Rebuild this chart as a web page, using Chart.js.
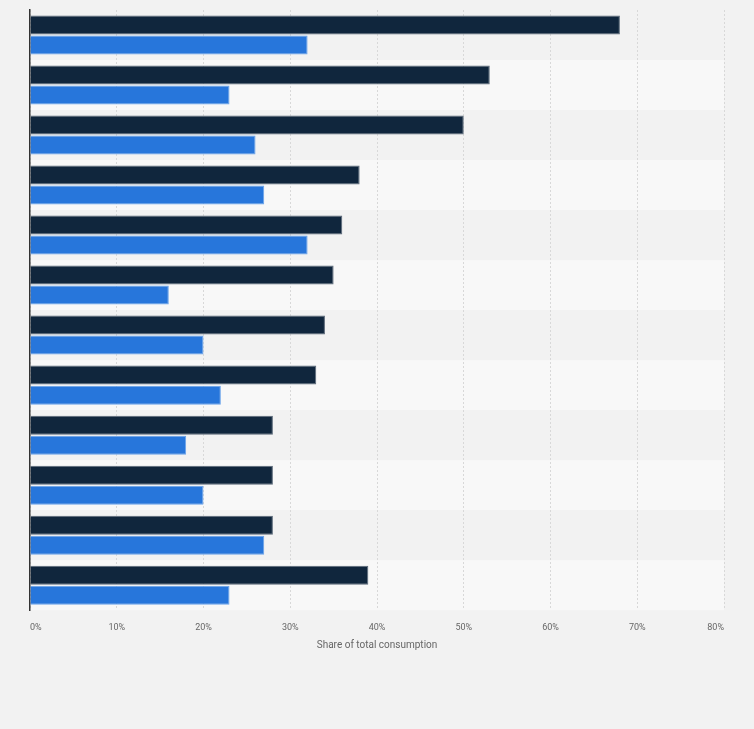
<!DOCTYPE html>
<html>
<head>
<meta charset="utf-8">
<script src="https://cdn.jsdelivr.net/npm/chart.js@4"></script>
<style>
  html, body { margin: 0; padding: 0; background: #f2f2f2; }
  #wrap { width: 754px; height: 729px; }
</style>
</head>
<body>
<div id="wrap"><canvas id="chart" width="754" height="729"></canvas></div>
<script>
const categories = ['1', '2', '3', '4', '5', '6', '7', '8', '9', '10', '11', '12'];
const seriesDark = [68, 53, 50, 38, 36, 35, 34, 33, 28, 28, 28, 39];
const seriesBlue = [32, 23, 26, 27, 32, 16, 20, 22, 18, 20, 27, 23];
const tickValues = [0, 10, 20, 30, 40, 50, 60, 70, 80];

// alternating row stripes behind bars
const stripes = {
  id: 'stripes',
  beforeDraw(chart) {
    const { ctx, chartArea, scales } = chart;
    ctx.save();
    ctx.fillStyle = '#f2f2f2';
    ctx.fillRect(0, 0, chart.width, chart.height);
    const y = scales.y;
    const h = (chartArea.bottom - chartArea.top) / categories.length;
    categories.forEach((c, i) => {
      const mid = y.getPixelForValue(i);
      ctx.fillStyle = i % 2 === 0 ? '#f2f2f2' : '#f8f8f8';
      ctx.fillRect(chartArea.left, mid - h / 2, chartArea.right - chartArea.left, h);
    });
    ctx.restore();
  }
};

new Chart(document.getElementById('chart'), {
  type: 'bar',
  data: {
    labels: categories,
    datasets: [
      {
        data: seriesDark,
        backgroundColor: '#10263d',
        borderColor: '#5a6878',
        borderWidth: 1,
        categoryPercentage: 0.8,
        barPercentage: 0.95
      },
      {
        data: seriesBlue,
        backgroundColor: '#2776db',
        borderColor: '#6aa3ea',
        borderWidth: 1,
        categoryPercentage: 0.8,
        barPercentage: 0.95
      }
    ]
  },
  options: {
    indexAxis: 'y',
    responsive: false,
    animation: false,
    layout: { padding: { left: 22, right: 30, top: 10, bottom: 74 } },
    plugins: {
      legend: { display: false },
      tooltip: { enabled: false }
    },
    scales: {
      x: {
        min: 0,
        max: 80,
        afterBuildTicks(axis) {
          axis.ticks = tickValues.map(v => ({ value: v }));
        },
        ticks: {
          align: 'inner',
          color: '#666',
          font: { family: 'Roboto', size: 9 },
          padding: 12,
          callback: v => v + '%'
        },
        grid: {
          color: '#d8d8d8',
          drawTicks: false
        },
        border: { display: false, dash: [2, 2] },
        title: {
          display: true,
          text: 'Share of total consumption',
          color: '#666',
          font: { family: 'Roboto', size: 10 },
          padding: { top: -6 }
        }
      },
      y: {
        ticks: { display: false },
        grid: { display: false },
        border: { display: true, color: '#333', width: 1.5 }
      }
    }
  },
  plugins: [stripes]
});
</script>
</body>
</html>
